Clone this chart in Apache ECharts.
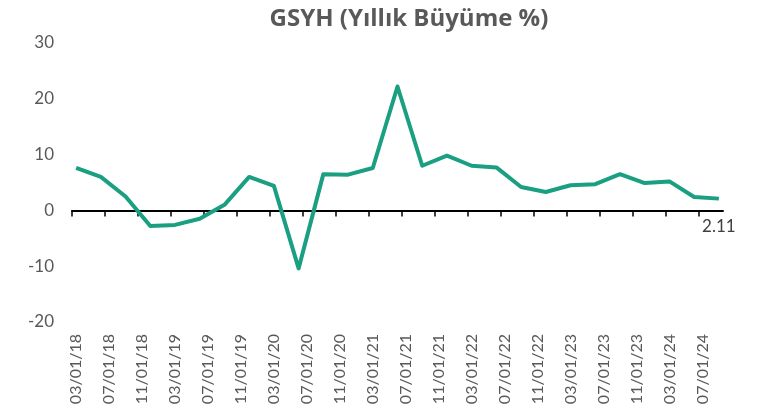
<!DOCTYPE html>
<html>
<head>
<meta charset="utf-8">
<script src="https://cdn.jsdelivr.net/npm/echarts@6/dist/echarts.min.js"></script>
<style>
  html, body { margin: 0; padding: 0; background: #fff; }
  #chart { width: 761px; height: 412px; }
</style>
</head>
<body>
<div id="chart"></div>
<script>
// quarterly observations (first month of the quarter end, as in the source sheet)
const quarters = [
  '2018-03', '2018-06', '2018-09', '2018-12',
  '2019-03', '2019-06', '2019-09', '2019-12',
  '2020-03', '2020-06', '2020-09', '2020-12',
  '2021-03', '2021-06', '2021-09', '2021-12',
  '2022-03', '2022-06', '2022-09', '2022-12',
  '2023-03', '2023-06', '2023-09', '2023-12',
  '2024-03', '2024-06', '2024-09'
];
const growth = [
  7.6, 6.0, 2.5, -2.8,
  -2.6, -1.5, 1.0, 6.0,
  4.4, -10.4, 6.5, 6.4,
  7.6, 22.2, 8.0, 9.8,
  8.0, 7.7, 4.2, 3.3,
  4.5, 4.7, 6.5, 4.9,
  5.2, 2.4, 2.11
];
const yTicks = [-20, -10, 0, 10, 20, 30];
const startMonth = '2018-03';

const monthIndex = s => {
  const [y, m] = s.split('-').map(Number);
  const [y0, m0] = startMonth.split('-').map(Number);
  return (y - y0) * 12 + (m - m0);
};
const monthLabel = idx => {
  const [y0, m0] = startMonth.split('-').map(Number);
  const t = y0 * 12 + (m0 - 1) + idx;
  const y = Math.floor(t / 12), m = t % 12 + 1;
  return String(m).padStart(2, '0') + '/01/' + String(y % 100).padStart(2, '0');
};

// points sit in the middle of their month, like an Excel date axis
const points = quarters.map((q, i) => [monthIndex(q) + 0.5, growth[i]]);
const lastIdx = points.length - 1;
const tickMonths = Array.from({ length: 20 }, (_, i) => i * 4);

const font = 'Lato, "Open Sans", sans-serif';
const chart = echarts.init(document.getElementById('chart'), null, { renderer: 'canvas' });

chart.setOption({
  animation: false,
  title: {
    text: 'GSYH (Yıllık Büyüme %)',
    left: 404,
    top: 2,
    textAlign: 'center',
    textStyle: { fontFamily: '"Open Sans", sans-serif', fontSize: 24, fontWeight: 'bold', color: '#595959' }
  },
  grid: { left: 72, right: 38, top: 43, bottom: 90, containLabel: false },
  xAxis: [
    {
      type: 'value',
      min: 0,
      max: 79,
      interval: 4,
      axisLine: { onZero: true, lineStyle: { color: '#000', width: 2 } },
      axisTick: { show: true, inside: false, length: 6, lineStyle: { color: '#000', width: 1.5 },
        customValues: tickMonths },
      axisLabel: { show: false },
      splitLine: { show: false }
    },
    {
      type: 'value',
      position: 'bottom',
      min: 0,
      max: 79,
      interval: 4,
      axisLine: { show: false, onZero: false },
      axisTick: { show: false },
      splitLine: { show: false },
      axisLabel: {
        rotate: 90,
        margin: 12,
        fontFamily: font,
        fontSize: 16,
        color: '#595959',
        formatter: v => monthLabel(Math.round(v - 0.5)),
        customValues: tickMonths.map(m => m + 0.5)
      }
    }
  ],
  yAxis: {
    type: 'value',
    min: -20,
    max: 30,
    interval: 10,
    axisLine: { show: false },
    axisTick: { show: false },
    splitLine: { show: false },
    axisLabel: {
      margin: 18,
      fontFamily: font,
      fontSize: 17,
      color: '#595959',
      formatter: v => (yTicks.includes(v) ? String(v) : '')
    }
  },
  series: [{
    type: 'line',
    xAxisIndex: 0,
    data: points,
    symbol: 'none',
    lineStyle: { color: '#1a9f82', width: 4, join: 'round' },
    itemStyle: { color: '#1a9f82' },
    markPoint: {
      symbol: 'circle',
      symbolSize: 0,
      data: [{ coord: points[lastIdx], value: growth[lastIdx] }],
      label: {
        show: true,
        position: 'bottom',
        offset: [0, 14],
        fontFamily: font,
        fontSize: 17,
        color: '#404040',
        formatter: p => String(p.value)
      }
    }
  }]
});
</script>
</body>
</html>
